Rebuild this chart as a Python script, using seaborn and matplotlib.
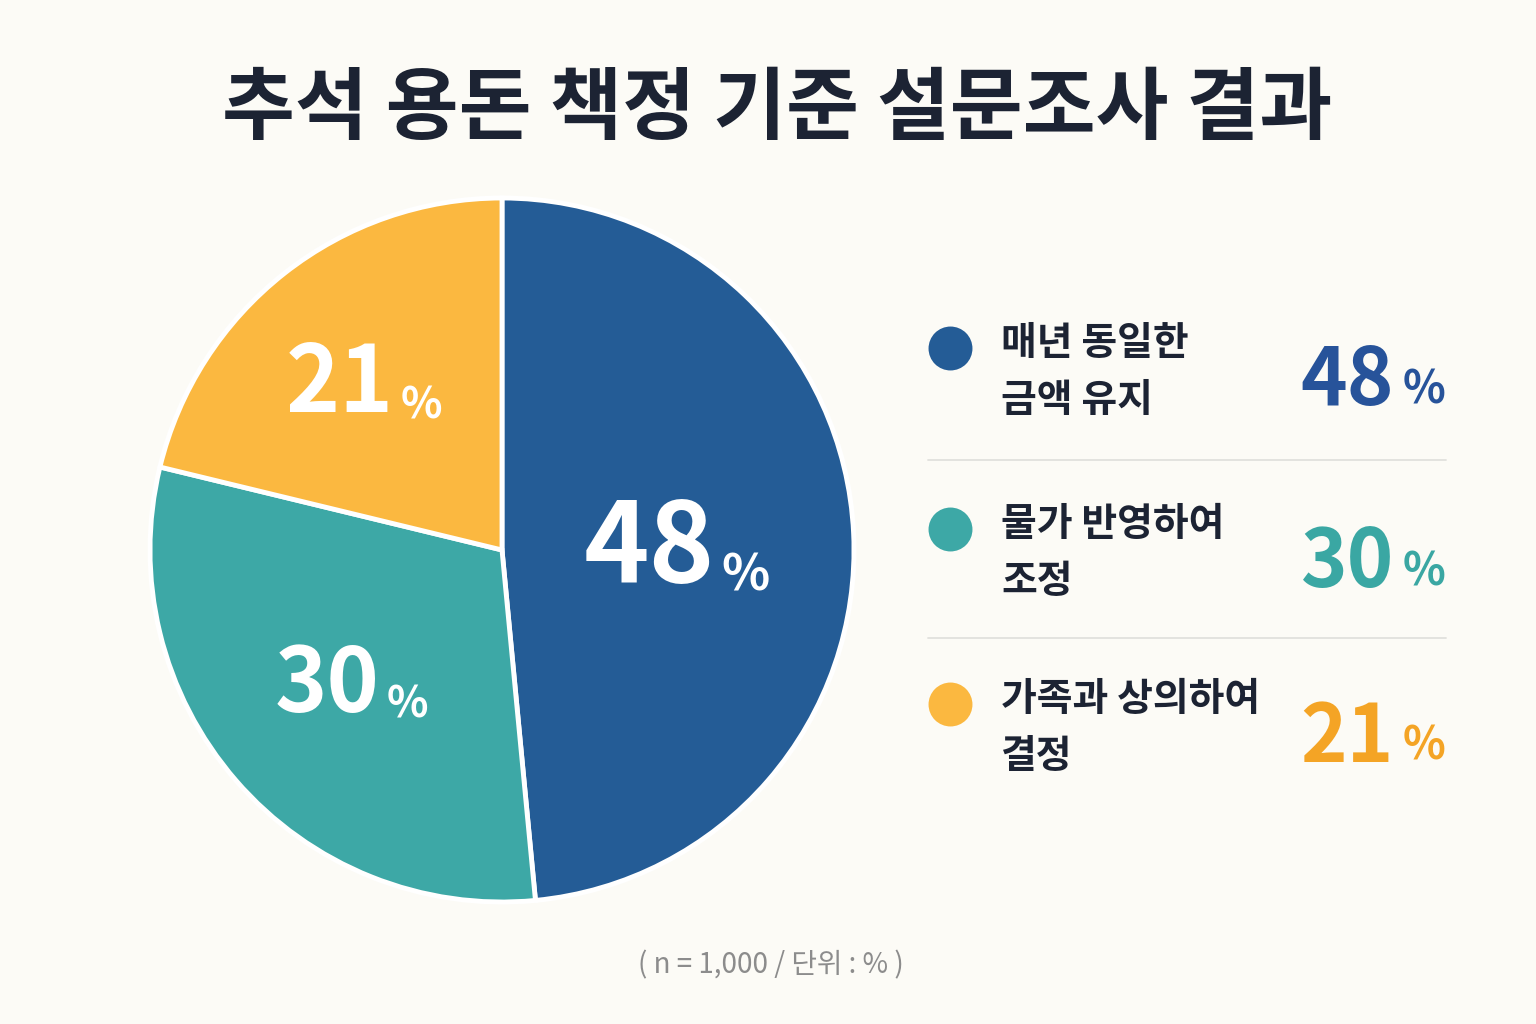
import matplotlib
matplotlib.use("Agg")
import matplotlib.pyplot as plt
import seaborn as sns
import numpy as np

# ---- data ----
title = "추석 용돈 책정 기준 설문조사 결과"
categories = ["매년 동일한\n금액 유지", "물가 반영하여\n조정", "가족과 상의하여\n결정"]
values = [48, 30, 21]
note = "( n = 1,000 / 단위 : % )"

slice_colors = ["#245C96", "#3DA8A6", "#FBB840"]
number_colors = ["#27539A", "#3AA7A3", "#F4A425"]
bg = "#FCFBF6"
dark = "#1C2333"

sns.set_theme(style="white")
plt.rcParams['font.family'] = ['Noto Sans CJK KR', 'DejaVu Sans']

W, H = 1536, 1024
fig = plt.figure(figsize=(W / 100, H / 100), dpi=100)
fig.patch.set_facecolor(bg)

# ---- pie ----
cx, cy, r = 502, 550, 352
ax = fig.add_axes([(cx - r) / W, 1 - (cy + r) / H, 2 * r / W, 2 * r / H])
ax.set_facecolor(bg)
wedges, _ = ax.pie(values, colors=slice_colors, startangle=90, counterclock=False,
                   wedgeprops=dict(edgecolor="white", linewidth=3.5))
ax.set_xlim(-1, 1)
ax.set_ylim(-1, 1)
ax.set_aspect("equal")
ax.axis("off")

big_sizes = [80, 64, 66]
pct_sizes = [36, 31, 31]
dists = [0.53, 0.56, 0.62]
for w, v, bs, ps, d in zip(wedges, values, big_sizes, pct_sizes, dists):
    mid = np.deg2rad((w.theta1 + w.theta2) / 2)
    x, y = d * np.cos(mid), d * np.sin(mid)
    cap = bs * 100 / 72 * 0.73 / r  # digit cap height in data units
    t = ax.text(x + 0.075, y - cap / 2, str(v), color="white", fontsize=bs,
                fontweight="bold", ha="right", va="baseline")
    ax.annotate("%", xy=(1, 0), xycoords=t, xytext=(5, 3), textcoords="offset points",
                color="white", fontsize=ps, fontweight="bold", ha="left", va="bottom")

# ---- title ----
fig.text(0.506, 1 - 110 / H, title, ha="center", va="center", fontsize=57,
         fontweight="bold", color=dark)

# ---- legend panel ----
lax = fig.add_axes([0, 0, 1, 1], facecolor="none")
lax.set_xlim(0, W)
lax.set_ylim(H, 0)
lax.axis("off")

row_y = [372, 553, 728]
dot_x = 950
for i, (cat, v) in enumerate(zip(categories, values)):
    yy = row_y[i]
    lax.scatter([dot_x], [yy - 24], s=1000, color=slice_colors[i], zorder=3, linewidths=0)
    lax.text(1001, yy, cat, fontsize=28, fontweight="bold", color=dark,
             ha="left", va="center", linespacing=1.55)
    lax.text(1394, yy + 10, str(v), fontsize=57, fontweight="bold",
             color=number_colors[i], ha="right", va="center")
    lax.text(1403, yy + 19, "%", fontsize=32, fontweight="bold",
             color=number_colors[i], ha="left", va="center")

for sy in [460, 638]:
    lax.plot([928, 1446], [sy, sy], color="#E1E1DD", linewidth=1.3)

# ---- footnote ----
fig.text(771 / W, 1 - 965 / H, note, ha="center", va="center", fontsize=20,
         color="#8C8C8C")

fig.savefig("out.png", dpi=100, facecolor=bg)
